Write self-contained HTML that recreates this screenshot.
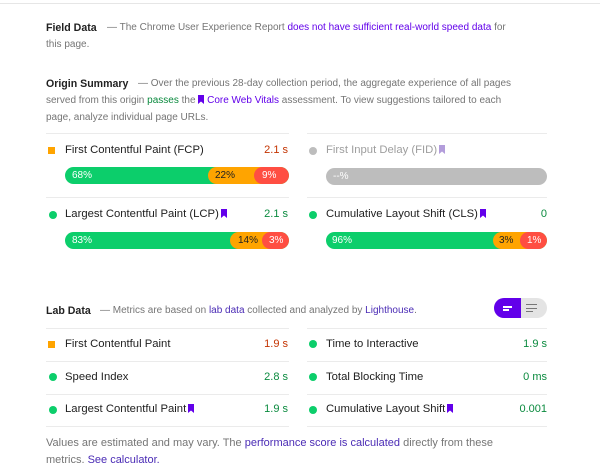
<!DOCTYPE html>
<html><head><meta charset="utf-8">
<style>
*{margin:0;padding:0;box-sizing:border-box}
html,body{width:600px;height:474px;background:#fff;overflow:hidden}
body{position:relative;font-family:"Liberation Sans",Arial,sans-serif;color:#212121}
.a{position:absolute;white-space:nowrap;height:16px;line-height:16px}
.d{font-size:10px;color:#757575}
.h{font-size:10.6px;font-weight:bold;color:#212121}
.t{font-size:11.3px;color:#212121}
.v{font-size:11px;text-align:right}
.f{font-size:11px;color:#757575}
.lk{color:#6200ea}
.lk2{color:#4a2bb5}
.g{color:#0a8a3e}
.o{color:#c33300}
.hr{position:absolute;height:1px;background:#ebebeb}
.dot{position:absolute;width:8px;height:8px;border-radius:50%;background:#0cce6b}
.sq{position:absolute;width:7px;height:7px;background:#ffa400}
.bar{position:absolute;height:17px;border-radius:9px;overflow:hidden;background:#0cce6b}
.seg{position:absolute;top:0;bottom:0;right:0;border-radius:9px}
.bl{position:absolute;font-size:10px;line-height:17px;height:17px;top:0}
.bm{display:inline-block;vertical-align:-1px;width:6px;height:9px}
.bm2{display:inline-block;vertical-align:-1px;width:6px;height:9px;margin-left:2px}
</style></head><body>
<div class="hr" style="left:0;top:3px;width:600px;background:#e6e6e6"></div>

<div class="a h" style="left:46px;top:20px">Field Data</div>
<div class="a d" style="left:107px;top:20px">— The Chrome User Experience Report <span class="lk">does not have sufficient real-world speed data</span> for</div>
<div class="a d" style="left:46px;top:37px">this page.</div>

<div class="a h" style="left:46px;top:76px">Origin Summary</div>
<div class="a d" style="left:138px;top:76px">— Over the previous 28-day collection period, the aggregate experience of all pages</div>
<div class="a d" style="left:46px;top:93px">served from this origin <span class="g">passes</span> the <svg class="bm" viewBox="0 0 6 9"><path d="M0 0H6V9L3 6.5L0 9Z" fill="#6200ea"/></svg> <span class="lk">Core Web Vitals</span> assessment. To view suggestions tailored to each</div>
<div class="a d" style="left:46px;top:110px">page, analyze individual page URLs.</div>

<div class="hr" style="left:46px;top:133px;width:243px"></div>
<div class="hr" style="left:307px;top:133px;width:240px"></div>

<!-- FCP -->
<div class="sq" style="left:48px;top:147px"></div>
<div class="a t" style="left:65px;top:142px">First Contentful Paint (FCP)</div>
<div class="a v o" style="left:240px;width:48px;top:142px">2.1 s</div>
<div class="bar" style="left:65px;top:167px;width:224px">
  <div class="seg" style="left:143px;background:#ffa400"></div>
  <div class="seg" style="left:189px;background:#ff4e42"></div>
  <div class="bl" style="left:7px;color:#fff">68%</div>
  <div class="bl" style="left:150px;color:#212121">22%</div>
  <div class="bl" style="left:197px;color:#fff">9%</div>
</div>

<!-- FID -->
<div class="dot" style="left:309px;top:147px;background:#bdbdbd"></div>
<div class="a t" style="left:326px;top:142px;color:#9e9e9e">First Input Delay (FID)<svg class="bm2" viewBox="0 0 6 9"><path d="M0 0H6V9L3 6.5L0 9Z" fill="#b39ddb"/></svg></div>
<div class="bar" style="left:326px;top:168px;width:221px;background:#bdbdbd">
  <div class="bl" style="left:7px;color:#fff">--%</div>
</div>

<div class="hr" style="left:46px;top:197px;width:243px"></div>
<div class="hr" style="left:307px;top:197px;width:240px"></div>

<!-- LCP -->
<div class="dot" style="left:49px;top:211px"></div>
<div class="a t" style="left:65px;top:206px">Largest Contentful Paint (LCP)<svg class="bm2" viewBox="0 0 6 9"><path d="M0 0H6V9L3 6.5L0 9Z" fill="#6200ea"/></svg></div>
<div class="a v g" style="left:240px;width:48px;top:206px">2.1 s</div>
<div class="bar" style="left:65px;top:232px;width:224px">
  <div class="seg" style="left:165px;background:#ffa400"></div>
  <div class="seg" style="left:197px;background:#ff4e42"></div>
  <div class="bl" style="left:7px;color:#fff">83%</div>
  <div class="bl" style="left:173px;color:#212121">14%</div>
  <div class="bl" style="left:204px;color:#fff">3%</div>
</div>

<!-- CLS -->
<div class="dot" style="left:309px;top:211px"></div>
<div class="a t" style="left:326px;top:206px">Cumulative Layout Shift (CLS)<svg class="bm2" viewBox="0 0 6 9"><path d="M0 0H6V9L3 6.5L0 9Z" fill="#6200ea"/></svg></div>
<div class="a v g" style="left:500px;width:47px;top:206px">0</div>
<div class="bar" style="left:326px;top:232px;width:221px">
  <div class="seg" style="left:167px;background:#ffa400"></div>
  <div class="seg" style="left:194px;background:#ff4e42"></div>
  <div class="bl" style="left:6px;color:#fff">96%</div>
  <div class="bl" style="left:173px;color:#212121">3%</div>
  <div class="bl" style="left:201px;color:#fff">1%</div>
</div>

<!-- Lab data -->
<div class="a h" style="left:46px;top:303px">Lab Data</div>
<div class="a d" style="left:100px;top:303px">— Metrics are based on <span class="lk2">lab data</span> collected and analyzed by <span class="lk2">Lighthouse</span>.</div>

<div style="position:absolute;left:494px;top:298px;width:53px;height:20px;border-radius:10px;overflow:hidden;background:#e4e4e4">
  <div style="position:absolute;left:0;top:0;width:27px;height:20px;background:#6200ea"></div>
  <div style="position:absolute;left:9px;top:8px;width:9px;height:1.5px;background:#fff"></div>
  <div style="position:absolute;left:9px;top:11px;width:6px;height:1.5px;background:#fff"></div>
  <div style="position:absolute;left:32px;top:6px;width:11px;height:1.3px;background:#777"></div>
  <div style="position:absolute;left:32px;top:9.5px;width:11px;height:1.3px;background:#777"></div>
  <div style="position:absolute;left:32px;top:13px;width:7px;height:1.3px;background:#777"></div>
</div>

<div class="hr" style="left:46px;top:328px;width:243px"></div>
<div class="hr" style="left:307px;top:328px;width:240px"></div>

<div class="sq" style="left:48px;top:341px"></div>
<div class="a t" style="left:65px;top:336px">First Contentful Paint</div>
<div class="a v o" style="left:240px;width:48px;top:336px">1.9 s</div>
<div class="dot" style="left:309px;top:340px"></div>
<div class="a t" style="left:326px;top:336px">Time to Interactive</div>
<div class="a v g" style="left:490px;width:57px;top:336px">1.9 s</div>

<div class="hr" style="left:46px;top:361px;width:243px"></div>
<div class="hr" style="left:307px;top:361px;width:240px"></div>

<div class="dot" style="left:49px;top:373px"></div>
<div class="a t" style="left:65px;top:369px">Speed Index</div>
<div class="a v g" style="left:240px;width:48px;top:369px">2.8 s</div>
<div class="dot" style="left:309px;top:373px"></div>
<div class="a t" style="left:326px;top:369px">Total Blocking Time</div>
<div class="a v g" style="left:490px;width:57px;top:369px">0 ms</div>

<div class="hr" style="left:46px;top:394px;width:243px"></div>
<div class="hr" style="left:307px;top:394px;width:240px"></div>

<div class="dot" style="left:49px;top:406px"></div>
<div class="a t" style="left:65px;top:401px">Largest Contentful Paint<svg class="bm2" viewBox="0 0 6 9"><path d="M0 0H6V9L3 6.5L0 9Z" fill="#6200ea"/></svg></div>
<div class="a v g" style="left:240px;width:48px;top:401px">1.9 s</div>
<div class="dot" style="left:309px;top:406px"></div>
<div class="a t" style="left:326px;top:401px">Cumulative Layout Shift<svg class="bm2" viewBox="0 0 6 9"><path d="M0 0H6V9L3 6.5L0 9Z" fill="#6200ea"/></svg></div>
<div class="a v g" style="left:490px;width:57px;top:401px">0.001</div>

<div class="hr" style="left:46px;top:426px;width:243px"></div>
<div class="hr" style="left:307px;top:426px;width:240px"></div>

<div class="a f" style="left:46px;top:435px">Values are estimated and may vary. The <span class="lk2">performance score is calculated</span> directly from these</div>
<div class="a f" style="left:46px;top:452px">metrics. <span class="lk2">See calculator.</span></div>
</body></html>
